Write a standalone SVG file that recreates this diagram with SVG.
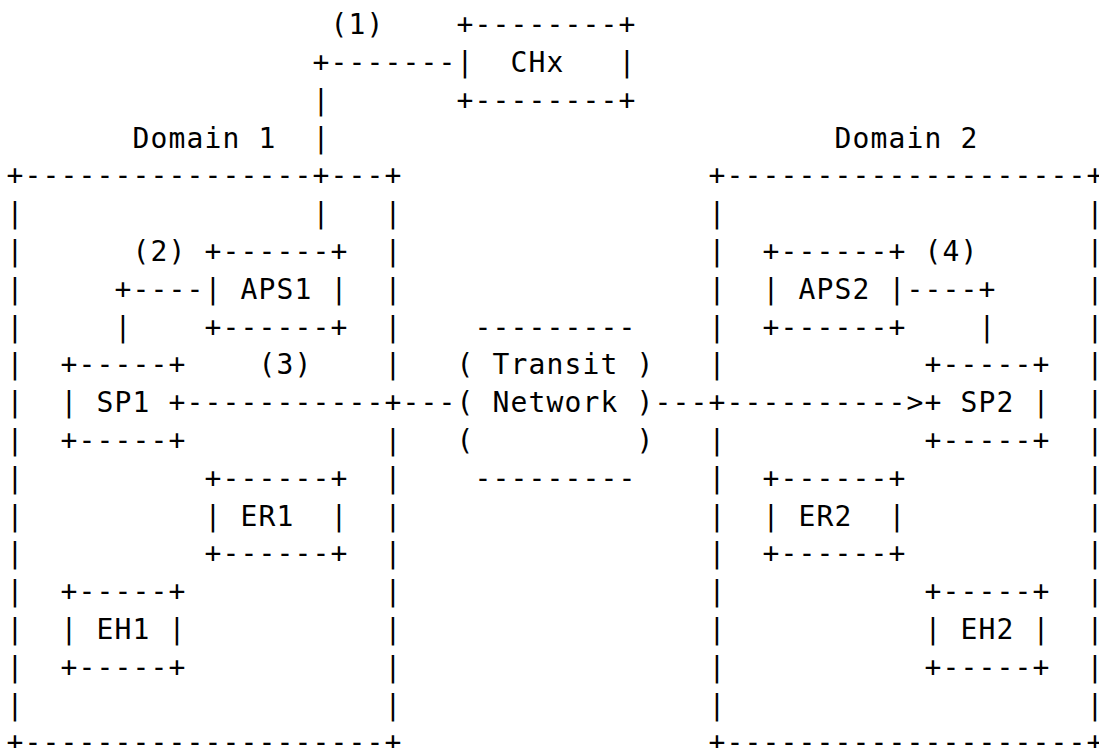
<svg xmlns="http://www.w3.org/2000/svg" width="1099" height="748" viewBox="0 0 1099 748">
  <style>
    /* monospace grid: 18px per column, 37.8px per row; col c at x = 6 + 18c, row r baseline at y = 35 + 37.8r */
    text { font-family: "DejaVu Sans Mono", monospace; font-size: 28px; letter-spacing: 1.14px; fill: #000; white-space: pre; }
  </style>
  <rect width="1099" height="748" fill="#fff"/>

  <!-- glyphs are 16.86px wide; shift by half the spacing to sit centred in each 18px cell -->
  <g transform="translate(0.6,-0.7)">

  <g id="chx">
    <text x="456" y="35">+--------+</text>
    <text x="456" y="72.8">|  CHx   |</text>
    <text x="456" y="110.6">+--------+</text>
  </g>

  <g id="domain1">
    <text x="132" y="148.4">Domain 1</text>
    <text x="6" y="186.2">+----------------+---+</text>
    <text x="6" y="224">|</text><text x="384" y="224">|</text>
    <text x="6" y="261.8">|</text><text x="384" y="261.8">|</text>
    <text x="6" y="299.6">|</text><text x="384" y="299.6">|</text>
    <text x="6" y="337.4">|</text><text x="384" y="337.4">|</text>
    <text x="6" y="375.2">|</text><text x="384" y="375.2">|</text>
    <text x="6" y="413">|</text>
    <text x="6" y="450.8">|</text><text x="384" y="450.8">|</text>
    <text x="6" y="488.6">|</text><text x="384" y="488.6">|</text>
    <text x="6" y="526.4">|</text><text x="384" y="526.4">|</text>
    <text x="6" y="564.2">|</text><text x="384" y="564.2">|</text>
    <text x="6" y="602">|</text><text x="384" y="602">|</text>
    <text x="6" y="639.8">|</text><text x="384" y="639.8">|</text>
    <text x="6" y="677.6">|</text><text x="384" y="677.6">|</text>
    <text x="6" y="715.4">|</text><text x="384" y="715.4">|</text>
    <text x="6" y="753.2">+--------------------+</text>
  </g>

  <g id="domain2">
    <text x="834" y="148.4">Domain 2</text>
    <text x="708" y="186.2">+--------------------+</text>
    <text x="708" y="224">|</text><text x="1086" y="224">|</text>
    <text x="708" y="261.8">|</text><text x="1086" y="261.8">|</text>
    <text x="708" y="299.6">|</text><text x="1086" y="299.6">|</text>
    <text x="708" y="337.4">|</text><text x="1086" y="337.4">|</text>
    <text x="708" y="375.2">|</text><text x="1086" y="375.2">|</text>
    <text x="1086" y="413">|</text>
    <text x="708" y="450.8">|</text><text x="1086" y="450.8">|</text>
    <text x="708" y="488.6">|</text><text x="1086" y="488.6">|</text>
    <text x="708" y="526.4">|</text><text x="1086" y="526.4">|</text>
    <text x="708" y="564.2">|</text><text x="1086" y="564.2">|</text>
    <text x="708" y="602">|</text><text x="1086" y="602">|</text>
    <text x="708" y="639.8">|</text><text x="1086" y="639.8">|</text>
    <text x="708" y="677.6">|</text><text x="1086" y="677.6">|</text>
    <text x="708" y="715.4">|</text><text x="1086" y="715.4">|</text>
    <text x="708" y="753.2">+--------------------+</text>
  </g>

  <g id="aps1">
    <text x="204" y="261.8">+------+</text>
    <text x="204" y="299.6">| APS1 |</text>
    <text x="204" y="337.4">+------+</text>
  </g>

  <g id="sp1">
    <text x="60" y="375.2">+-----+</text>
    <text x="60" y="413">| SP1 +</text>
    <text x="60" y="450.8">+-----+</text>
  </g>

  <g id="er1">
    <text x="204" y="488.6">+------+</text>
    <text x="204" y="526.4">| ER1  |</text>
    <text x="204" y="564.2">+------+</text>
  </g>

  <g id="eh1">
    <text x="60" y="602">+-----+</text>
    <text x="60" y="639.8">| EH1 |</text>
    <text x="60" y="677.6">+-----+</text>
  </g>

  <g id="transit">
    <text x="474" y="337.4">---------</text>
    <text x="456" y="375.2">( Transit )</text>
    <text x="456" y="413">( Network )</text>
    <text x="456" y="450.8">(         )</text>
    <text x="474" y="488.6">---------</text>
  </g>

  <g id="aps2">
    <text x="762" y="261.8">+------+</text>
    <text x="762" y="299.6">| APS2 |</text>
    <text x="762" y="337.4">+------+</text>
  </g>

  <g id="sp2">
    <text x="924" y="375.2">+-----+</text>
    <text x="924" y="413">+ SP2 |</text>
    <text x="924" y="450.8">+-----+</text>
  </g>

  <g id="er2">
    <text x="762" y="488.6">+------+</text>
    <text x="762" y="526.4">| ER2  |</text>
    <text x="762" y="564.2">+------+</text>
  </g>

  <g id="eh2">
    <text x="924" y="602">+-----+</text>
    <text x="924" y="639.8">| EH2 |</text>
    <text x="924" y="677.6">+-----+</text>
  </g>

  <g id="connectors">
    <!-- (1) CHx to APS1 -->
    <text x="330" y="35">(1)</text>
    <text x="312" y="72.8">+-------</text>
    <text x="312" y="110.6">|</text>
    <text x="312" y="148.4">|</text>
    <text x="312" y="224">|</text>
    <!-- (2) APS1 to SP1 -->
    <text x="132" y="261.8">(2)</text>
    <text x="114" y="299.6">+----</text>
    <text x="114" y="337.4">|</text>
    <!-- (3) SP1 through the transit network to SP2 -->
    <text x="258" y="375.2">(3)</text>
    <text x="186" y="413">-----------+---</text>
    <text x="654" y="413">---+----------&gt;</text>
    <!-- (4) APS2 to SP2 -->
    <text x="924" y="261.8">(4)</text>
    <text x="906" y="299.6">----+</text>
    <text x="978" y="337.4">|</text>
  </g>

  </g>
</svg>
